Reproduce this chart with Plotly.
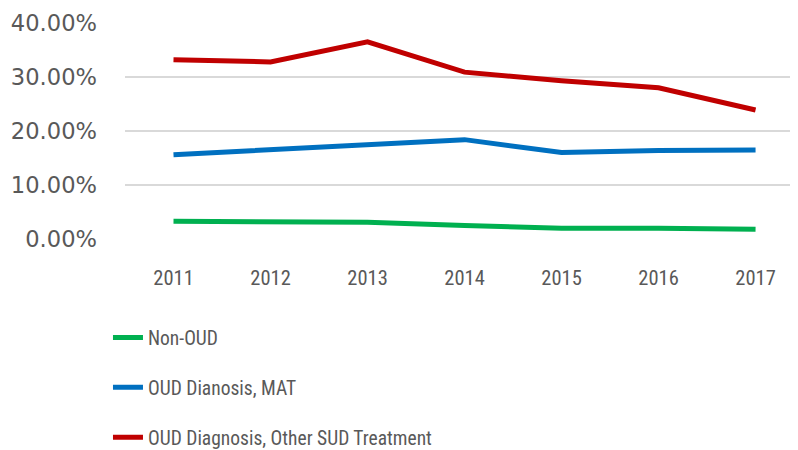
import plotly.graph_objects as go

years = ["2011", "2012", "2013", "2014", "2015", "2016", "2017"]
non_oud = [0.033, 0.031, 0.031, 0.025, 0.020, 0.020, 0.018]
oud_mat = [0.156, 0.165, 0.176, 0.184, 0.160, 0.164, 0.165]
oud_other = [0.332, 0.328, 0.365, 0.309, 0.293, 0.280, 0.239]

series_names = ["Non-OUD", "OUD Dianosis, MAT", "OUD Diagnosis, Other SUD Treatment"]
series_values = [non_oud, oud_mat, oud_other]
series_colors = ["#00B050", "#0070C0", "#C00000"]

FONT = "Roboto Condensed, Liberation Sans Narrow, Arial Narrow, sans-serif"

fig = go.Figure()
for i, (name, vals, col) in enumerate(zip(series_names, series_values, series_colors)):
    fig.add_trace(go.Scatter(
        x=years, y=vals, name=name, mode="lines",
        line=dict(color=col, width=5),
        legendgroup=f"g{i}",
    ))

fig.update_layout(
    width=798, height=450,
    margin=dict(l=117, r=0, t=15, b=219, autoexpand=False),
    paper_bgcolor="white", plot_bgcolor="white",
    font=dict(family=FONT, color="#595959", size=20),
    showlegend=True,
    legend=dict(
        x=-0.025, y=-0.367, xanchor="left", yanchor="top",
        orientation="v", tracegroupgap=21.5,
        font=dict(family=FONT, size=19.5, color="#595959"),
        itemwidth=30, bgcolor="rgba(0,0,0,0)",
    ),
    xaxis=dict(
        type="category", range=[-0.5, 6.52],
        showgrid=False, zeroline=False, showline=False,
        ticks="", ticklabelstandoff=24,
        tickfont=dict(family=FONT, size=20.5, color="#595959"),
    ),
    yaxis=dict(
        range=[0, 0.4], dtick=0.1, tickformat=".2%",
        showgrid=True, gridcolor="#D9D9D9", gridwidth=1.5,
        zeroline=False, showline=False, ticks="",
        ticklabelstandoff=27,
        tickfont=dict(family="DejaVu Sans, sans-serif", size=22.6, color="#595959"),
    ),
)

fig.write_html("out.html")
